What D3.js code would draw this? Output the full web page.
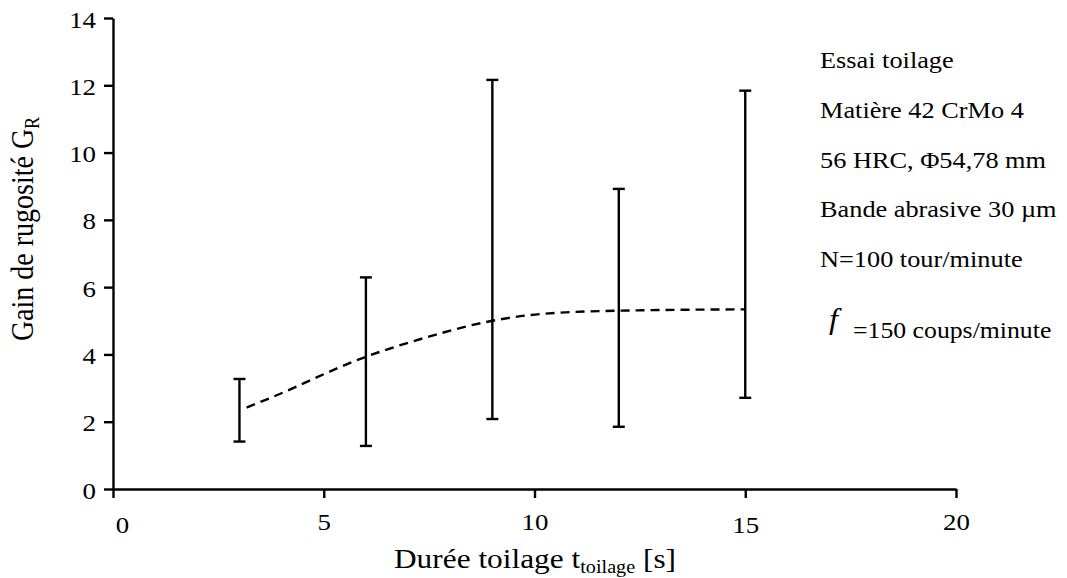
<!DOCTYPE html>
<html>
<head>
<meta charset="utf-8">
<script src="https://cdn.jsdelivr.net/npm/d3@7"></script>
<style>
  body { margin: 0; background: #fff; }
  text { font-family: "Liberation Serif", "Times New Roman", serif; fill: #000; }
</style>
</head>
<body>
<div id="chart"></div>
<script>
// measured values
var times = [3, 6, 9, 12, 15];
var gainLow = [1.41, 1.28, 2.08, 1.85, 2.71];
var gainHigh = [3.27, 6.29, 12.16, 8.92, 11.84];

var trendT = [3.17, 3.72, 6, 7.44, 9, 10.13, 12, 15];
var trendG = [2.42, 2.70, 3.93, 4.51, 5.0, 5.20, 5.30, 5.34];

var xTicks = [0, 5, 10, 15, 20];
var yTicks = [0, 2, 4, 6, 8, 10, 12, 14];

var notes = ['Essai toilage', 'Matière 42 CrMo 4', '56 HRC, \u03A654,78 mm',
             'Bande abrasive 30 \u00B5m', 'N=100 tour/minute'];
var lastNote = '=150 coups/minute';

var W = 1067, H = 578;
var sx = 1.12; // picture is a bit wider than tall

var x = d3.scaleLinear().domain([0, 20]).range([113, 956]);
var y = d3.scaleLinear().domain([0, 14]).range([489, 18]);

var svg = d3.select('#chart').append('svg')
    .attr('width', W)
    .attr('height', H);

svg.append('rect').attr('width', W).attr('height', H).attr('fill', '#fff');

// axes
var xAxis = d3.axisBottom(x).tickValues(xTicks).tickSize(9).tickSizeOuter(0).tickPadding(15);
var yAxis = d3.axisLeft(y).tickValues(yTicks).tickSize(9).tickSizeOuter(0).tickPadding(7);

var gx = svg.append('g').attr('transform', 'translate(0,' + y(0) + ')').call(xAxis);
var gy = svg.append('g').attr('transform', 'translate(' + x(0) + ',0)').call(yAxis);

[gx, gy].forEach(g => {
    g.attr('font-size', 24).attr('font-family', '"Liberation Serif", "Times New Roman", serif');
    g.select('.domain').attr('stroke', '#000').attr('stroke-width', 2.4);
    g.selectAll('.tick line').attr('stroke', '#000').attr('stroke-width', 2.4);
    g.selectAll('.tick text')
        .style('font-size', '24px')
        .attr('fill', '#000');
});

gx.selectAll('.tick text')
    .attr('dy', '0.71em')
    .attr('transform', d => 'translate(' + (d === 0 ? 9 : 0) + ',' + (d === 0 || d === 15 ? 3 : 0) + ') scale(' + sx + ',1)');
gy.selectAll('.tick text')
    .attr('dy', '0.38em')
    .attr('transform', 'scale(' + sx + ',1)')
    .attr('x', -17 / sx);

// error bars
var bars = svg.append('g').selectAll('g')
    .data(times.map((t, i) => ({t: t, lo: gainLow[i], hi: gainHigh[i]})))
    .enter().append('g')
    .attr('stroke', '#000')
    .attr('stroke-width', 2.4);

bars.append('line')
    .attr('x1', d => x(d.t)).attr('x2', d => x(d.t))
    .attr('y1', d => y(d.lo)).attr('y2', d => y(d.hi));
bars.append('line')
    .attr('x1', d => x(d.t) - 6).attr('x2', d => x(d.t) + 6)
    .attr('y1', d => y(d.hi)).attr('y2', d => y(d.hi));
bars.append('line')
    .attr('x1', d => x(d.t) - 6).attr('x2', d => x(d.t) + 6)
    .attr('y1', d => y(d.lo)).attr('y2', d => y(d.lo));

// dashed trend
var trend = trendT.map((t, i) => ({t: t, g: trendG[i]}));
var line = d3.line()
    .x(d => x(d.t))
    .y(d => y(d.g))
    .curve(d3.curveMonotoneX);

svg.append('path')
    .datum(trend)
    .attr('d', line)
    .attr('fill', 'none')
    .attr('stroke', '#000')
    .attr('stroke-width', 2.4)
    .attr('stroke-dasharray', '9,6');

// axis titles
var xt = svg.append('text')
    .attr('transform', 'translate(535,568) scale(' + sx + ',1)')
    .attr('text-anchor', 'middle')
    .attr('font-size', 28);
xt.append('tspan').text('Durée toilage t');
xt.append('tspan').attr('font-size', 18).attr('dy', 5).text('toilage');
xt.append('tspan').attr('dy', -5).text(' [s]');

var yt = svg.append('text')
    .attr('transform', 'translate(33,229) scale(' + sx + ',1) rotate(-90)')
    .attr('text-anchor', 'middle')
    .attr('font-size', 28);
yt.append('tspan').text('Gain de rugosité G');
yt.append('tspan').attr('font-size', 18).attr('dy', 5).text('R');

// test conditions
svg.append('g').selectAll('text')
    .data(notes)
    .enter().append('text')
    .attr('transform', (d, i) => 'translate(820,' + (68 + i * 49.8) + ') scale(' + sx + ',1)')
    .attr('font-size', 23.5)
    .text(d => d);

svg.append('text')
    .attr('transform', 'translate(829,329) scale(' + sx + ',1)')
    .attr('font-size', 29)
    .attr('font-style', 'italic')
    .text('f');
svg.append('text')
    .attr('transform', 'translate(853,337.5) scale(' + sx + ',1)')
    .attr('font-size', 23)
    .text(lastNote);
</script>
</body>
</html>
